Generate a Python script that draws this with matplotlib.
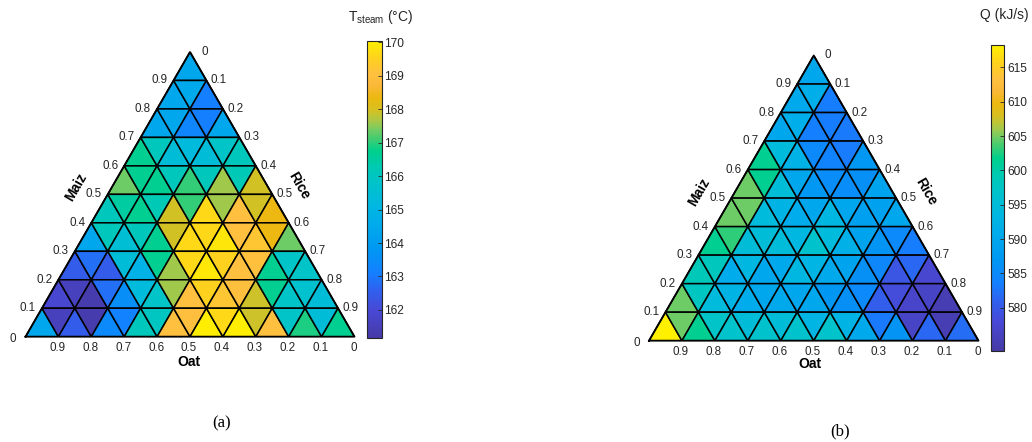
import numpy as np
import matplotlib
matplotlib.use("Agg")
import matplotlib.pyplot as plt
import matplotlib.tri as mtri
from matplotlib.colors import LinearSegmentedColormap

plt.rcParams['font.family'] = ['Liberation Sans', 'DejaVu Sans']
plt.rcParams['mathtext.fontset'] = 'custom'
plt.rcParams['mathtext.rm'] = 'Liberation Sans'
plt.rcParams['mathtext.it'] = 'Liberation Sans:italic'

# ---------------- data ----------------
# Rows of triangles from the apex (Maiz 0.9-1.0) down to the base (Maiz 0-0.1),
# each row listed left to right (up, down, up, ...).
t_steam_rows = [
    [164.45],
    [164.45, 164.5, 163.1],
    [164.45, 164.45, 163.3, 163.1, 164.4],
    [166.7, 166.1, 165.4, 165.3, 165.4, 165.85, 166.1],
    [167.35, 166.7, 166.7, 166.1, 167.05, 166.1, 167.6, 166.2, 167.95],
    [166.1, 166.5, 166.7, 166.2, 167.95, 167.05, 169.65, 167.6, 169.05, 167.95, 168.35],
    [164.45, 166.1, 165.5, 166.1, 166.7, 167.95, 169.65, 169.6, 169.85, 169.05, 169.25, 168.35, 167.35],
    [162.5, 162.85, 162.5, 165.4, 164.9, 166.7, 167.6, 169.65, 169.9, 169.5, 169.05, 169.1, 166.7, 165.85, 165.85],
    [161.9, 161.6, 161.3, 162.85, 163.55, 165.3, 165.85, 167.6, 169.05, 169.5, 169.25, 169.0, 167.9, 166.7, 165.85, 165.7, 165.4],
    [164.45, 161.6, 162.5, 161.3, 163.4, 163.2, 166.1, 166.0, 169.05, 169.0, 170.0, 169.65, 170.0, 167.9, 169.05, 165.85, 166.9, 165.4, 166.7],
]
q_rows = [
    [590.0],
    [590.5, 591.5, 583.3],
    [590.2, 591.5, 583.5, 583.3, 583.0],
    [601.5, 594.5, 592.4, 585.0, 584.0, 583.2, 587.1],
    [604.7, 601.5, 595.1, 590.2, 587.1, 585.5, 585.5, 586.0, 589.5],
    [604.7, 604.7, 594.5, 592.5, 591.0, 590.2, 593.5, 590.0, 588.5, 589.0, 590.2],
    [601.5, 603.1, 595.1, 595.1, 594.8, 593.5, 596.5, 594.5, 592.0, 589.5, 586.5, 585.0, 583.3],
    [598.6, 598.3, 591.0, 593.5, 590.0, 590.5, 593.5, 593.0, 590.5, 589.5, 586.0, 584.5, 579.5, 581.5, 577.5],
    [604.7, 598.0, 594.5, 592.5, 591.0, 590.0, 590.5, 590.0, 590.0, 587.0, 586.0, 585.0, 580.5, 578.5, 577.0, 576.5, 575.0],
    [618.2, 604.7, 601.5, 597.3, 597.0, 595.1, 596.5, 595.0, 596.5, 593.0, 597.0, 592.5, 590.5, 583.0, 586.5, 576.5, 581.5, 575.0, 582.0],
]
axis_ticks = [0.0, 0.1, 0.2, 0.3, 0.4, 0.5, 0.6, 0.7, 0.8, 0.9]
tick_labels = ['0', '0.1', '0.2', '0.3', '0.4', '0.5', '0.6', '0.7', '0.8', '0.9']
t_ticks = [162, 163, 164, 165, 166, 167, 168, 169, 170]
q_ticks = [580, 585, 590, 595, 600, 605, 610, 615]
t_lim = (161.15, 170.05)
q_lim = (573.7, 618.25)

# parula-like colormap
stops = [
    (0.00, '#463aa6'), (0.09, '#4848d4'), (0.16, '#3060ee'), (0.22, '#1480ff'),
    (0.30, '#0098f2'), (0.38, '#00aaec'), (0.45, '#00b8e0'), (0.53, '#00c4c8'),
    (0.58, '#00cab0'), (0.63, '#00d08c'), (0.67, '#40cc72'), (0.70, '#70cc64'),
    (0.73, '#a8c848'), (0.77, '#d8c020'), (0.81, '#ecb810'), (0.85, '#fab838'),
    (0.89, '#ffc040'), (0.94, '#ffd020'), (1.00, '#fff000'),
]
cmap = LinearSegmentedColormap.from_list('parula_like', stops, N=256)

N = 10
H = np.sqrt(3) / 2


def build_tri():
    idx = {}
    xs, ys = [], []
    for a in range(N + 1):
        for b in range(N + 1 - a):
            idx[(a, b)] = len(xs)
            xs.append(0.5 * a / N + b / N)
            ys.append(H * a / N)
    rows = []
    for r in range(N - 1, -1, -1):
        row = []
        for k in range(N - r):
            row.append([idx[(r, k)], idx[(r, k + 1)], idx[(r + 1, k)]])
            if k < N - r - 1:
                row.append([idx[(r, k + 1)], idx[(r + 1, k + 1)], idx[(r + 1, k)]])
        rows.append(row)
    tris = [t for row in rows for t in row]
    return mtri.Triangulation(np.array(xs), np.array(ys), np.array(tris))


fig = plt.figure(figsize=(10.32, 4.42), dpi=100)
W, Hf = 1032.0, 442.0


def fbox(l, t, r, b):
    return [l / W, 1 - b / Hf, (r - l) / W, (b - t) / Hf]


def ternary(axpos, rows, lim, cbpos, ticks, cbtitle, cbtitle_xy, maiz_xy, rice_xy, oat_xy):
    ax = fig.add_axes(axpos)
    tri = build_tri()
    vals = np.array([v for row in rows for v in row])
    pc = ax.tripcolor(tri, facecolors=vals, cmap=cmap, vmin=lim[0], vmax=lim[1],
                      edgecolors='black', linewidth=1.1)
    ax.plot([0, 1, 0.5, 0], [0, 0, H, 0], color='black', lw=1.3, clip_on=False)
    ax.set_xlim(0, 1)
    ax.set_ylim(0, H)
    ax.axis('off')
    fs = 8.4
    for v, lab in zip(axis_ticks, tick_labels):
        # Maiz (left edge)
        off = (-9, -2) if v == 0 else (-6, 0)
        ax.annotate(lab, (0.5 * v, H * v), xytext=off, textcoords='offset pixels',
                    ha='right', va='center', fontsize=fs, color='#262626', annotation_clip=False)
        # Rice (right edge)
        off = (11, 0) if v == 0 else (4.5, 0)
        ax.annotate(lab, (0.5 + 0.5 * v, H * (1 - v)), xytext=off, textcoords='offset pixels',
                    ha='left', va='center', fontsize=fs, color='#262626', annotation_clip=False)
        # Oat (base)
        ax.annotate(lab, (1 - v, 0), xytext=(-1, -11), textcoords='offset pixels',
                    ha='center', va='center', fontsize=fs, color='#262626', annotation_clip=False)
    fig.text(maiz_xy[0] / W, 1 - maiz_xy[1] / Hf, 'Maiz', rotation=60, ha='center', va='center',
             fontsize=10, fontweight='bold')
    fig.text(rice_xy[0] / W, 1 - rice_xy[1] / Hf, 'Rice', rotation=-60, ha='center', va='center',
             fontsize=10, fontweight='bold')
    fig.text(oat_xy[0] / W, 1 - oat_xy[1] / Hf, 'Oat', ha='center', va='center',
             fontsize=10, fontweight='bold')
    cax = fig.add_axes(cbpos)
    cb = fig.colorbar(pc, cax=cax, ticks=ticks)
    cb.outline.set_edgecolor('#262626')
    cb.outline.set_linewidth(0.8)
    cax.tick_params(direction='in', length=3, width=0.6, colors='#262626', labelsize=8.6, pad=2)
    fig.text(cbtitle_xy[0] / W, 1 - cbtitle_xy[1] / Hf, cbtitle, ha='center', va='center',
             fontsize=10, color='#262626')
    return ax


ternary(fbox(25.5, 52.0, 354.5, 336.7), t_steam_rows, t_lim,
        fbox(366.7, 40.7, 381.7, 338.3), t_ticks, r'T$_{\mathrm{steam}}$ (°C)', (381, 17),
        (76.5, 187.5), (299, 185.5), (189, 362))
ternary(fbox(649.0, 55.5, 978.5, 340.7), q_rows, q_lim,
        fbox(990.7, 45.0, 1004.3, 351.0), q_ticks, 'Q (kJ/s)', (1004, 15),
        (699.5, 192.5), (925.5, 191.7), (810, 363.5))

fig.text(222 / W, 1 - 423 / Hf, '(a)', ha='center', va='center', fontsize=12,
         family=['Liberation Serif', 'DejaVu Serif'])
fig.text(840 / W, 1 - 431 / Hf, '(b)', ha='center', va='center', fontsize=12,
         family=['Liberation Serif', 'DejaVu Serif'])

fig.savefig('out.png', dpi=100, facecolor='white')
